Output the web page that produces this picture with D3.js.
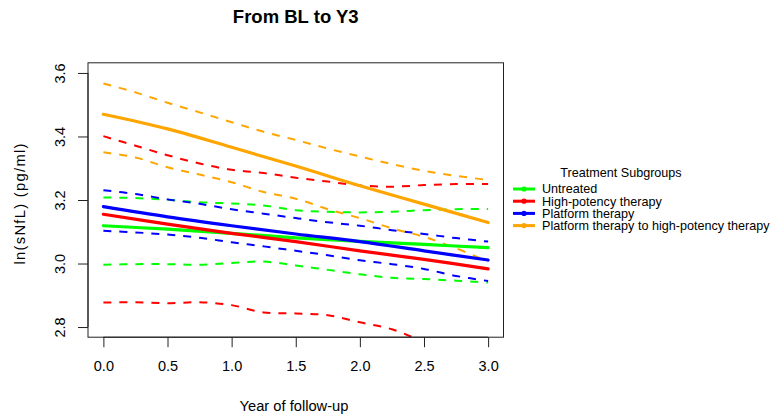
<!DOCTYPE html>
<html>
<head>
<meta charset="utf-8">
<script src="https://cdn.jsdelivr.net/npm/d3@7"></script>
<style>
  body { margin: 0; background: #fff; }
  svg { display: block; }
  text { font-family: "Liberation Sans", Arial, sans-serif; fill: #000; }
</style>
</head>
<body>
<svg id="chart" width="777" height="417"></svg>
<script>
// ---- data ----
const groups = ["Untreated", "High-potency therapy", "Platform therapy", "Platform therapy to high-potency therapy"];
const colors = ["#00FF00", "#FF0000", "#0000FF", "#FFA500"];
const xFine = [0, 0.25, 0.5, 0.75, 1.0, 1.25, 1.5, 1.75, 2.0, 2.25, 2.5, 2.75, 3.0];
const xCoarse = [0, 0.5, 1.0, 1.5, 2.0, 2.5, 3.0];

// estimates (solid)
const fitUntreated = [3.119, 3.108, 3.095, 3.081, 3.070, 3.060, 3.050];
const fitHigh      = [3.155, 3.124, 3.095, 3.069, 3.040, 3.013, 2.983];
const fitPlatform  = [3.179, 3.147, 3.119, 3.093, 3.069, 3.040, 3.011];
const fitSwitch    = [3.470, 3.424, 3.366, 3.307, 3.245, 3.187, 3.129];

// upper confidence bounds (dashed)
const upUntreated = [3.208, 3.206, 3.201, 3.193, 3.189, 3.183, 3.168, 3.163, 3.161, 3.163, 3.168, 3.171, 3.172];
const upHigh      = [3.401, 3.371, 3.341, 3.315, 3.295, 3.285, 3.270, 3.258, 3.246, 3.242, 3.247, 3.250, 3.250];
const upPlatform  = [3.231, 3.219, 3.202, 3.188, 3.171, 3.157, 3.143, 3.130, 3.119, 3.105, 3.093, 3.080, 3.069];
const upSwitch    = [3.567, 3.539, 3.506, 3.476, 3.445, 3.415, 3.389, 3.362, 3.337, 3.313, 3.292, 3.276, 3.263];

// lower confidence bounds (dashed)
const loUntreated = [2.996, 2.998, 2.998, 2.996, 3.002, 3.006, 2.994, 2.980, 2.966, 2.955, 2.951, 2.946, 2.940];
const loHigh      = [2.877, 2.878, 2.875, 2.878, 2.869, 2.846, 2.843, 2.837, 2.815, 2.793, 2.754, 2.725, 2.700];
const loPlatform  = [3.103, 3.098, 3.091, 3.081, 3.067, 3.054, 3.040, 3.026, 3.010, 2.998, 2.983, 2.961, 2.945];
const loSwitch    = [3.350, 3.334, 3.303, 3.280, 3.256, 3.225, 3.204, 3.171, 3.143, 3.111, 3.084, 3.048, 3.006];

const xTicks = [0, 0.5, 1.0, 1.5, 2.0, 2.5, 3.0];
const yTicks = [2.8, 3.0, 3.2, 3.4, 3.6];

const fits = [fitUntreated, fitHigh, fitPlatform, fitSwitch];
const ups = [upUntreated, upHigh, upPlatform, upSwitch];
const los = [loUntreated, loHigh, loPlatform, loSwitch];

// ---- layout ----
const svg = d3.select("#chart");
const x = d3.scaleLinear().domain([-0.12, 3.12]).range([88, 503.5]);
const y = d3.scaleLinear().domain([2.768, 3.632]).range([337.2, 62.8]);
const [x0, x1] = x.range();
const [yb, yt] = y.range();

svg.append("defs").append("clipPath").attr("id", "plotclip")
  .append("rect").attr("x", x0).attr("y", yt).attr("width", x1 - x0).attr("height", yb - yt);

const line = d3.line().x(d => x(d[0])).y(d => y(d[1])).curve(d3.curveCatmullRom.alpha(0.5));
const plot = svg.append("g").attr("clip-path", "url(#plotclip)");

groups.forEach((g, i) => {
  [ups[i], los[i]].forEach(arr => {
    plot.append("path")
      .attr("d", line(xFine.map((xv, j) => [xv, arr[j]])))
      .attr("fill", "none").attr("stroke", colors[i])
      .attr("stroke-width", 2).attr("stroke-dasharray", "8,8");
  });
});
groups.forEach((g, i) => {
  plot.append("path")
    .attr("d", line(xCoarse.map((xv, j) => [xv, fits[i][j]])))
    .attr("fill", "none").attr("stroke", colors[i])
    .attr("stroke-width", 3.2).attr("stroke-linecap", "round");
});

// box
svg.append("rect").attr("x", x0).attr("y", yt).attr("width", x1 - x0).attr("height", yb - yt)
  .attr("fill", "none").attr("stroke", "#222").attr("stroke-width", 1);

// x axis
const xAxis = d3.axisBottom(x).tickValues(xTicks).tickFormat(d3.format(".1f")).tickSize(10).tickPadding(14);
const gx = svg.append("g").attr("transform", `translate(0,${yb})`).call(xAxis);
gx.select(".domain").attr("d", `M${x(0)},0H${x(3)}`).attr("stroke", "#222");
gx.selectAll(".tick line").attr("stroke", "#222");
gx.selectAll(".tick text").style("font-family", "Liberation Sans, Arial, sans-serif").style("font-size", "14.5px").attr("fill", "#000");

// y axis
const yAxis = d3.axisLeft(y).tickValues(yTicks).tickFormat(d3.format(".1f")).tickSize(10).tickPadding(0);
const gy = svg.append("g").attr("transform", `translate(${x0},0)`).call(yAxis);
gy.select(".domain").attr("d", `M0,${y(2.8)}V${y(3.6)}`).attr("stroke", "#222");
gy.selectAll(".tick line").attr("stroke", "#222");
gy.selectAll(".tick text")
  .attr("x", null).attr("dy", null)
  .attr("text-anchor", "middle")
  .attr("transform", "translate(-23,0) rotate(-90)")
  .style("font-family", "Liberation Sans, Arial, sans-serif").style("font-size", "14.5px").attr("fill", "#000");

// titles
svg.append("text").attr("x", (x0 + x1) / 2).attr("y", 22.5).attr("text-anchor", "middle")
  .style("font-size", "18.5px").style("font-weight", "bold").text("From BL to Y3");
svg.append("text").attr("x", 294).attr("y", 410.5).attr("text-anchor", "middle")
  .style("font-size", "14.7px").text("Year of follow-up");
svg.append("text").attr("transform", "translate(25,204) rotate(-90)").attr("text-anchor", "middle")
  .style("font-size", "14.7px").attr("textLength", 121).attr("lengthAdjust", "spacing")
  .text("ln(sNfL) (pg/ml)");

// legend
const lg = svg.append("g");
lg.append("text").attr("x", 621).attr("y", 177).attr("text-anchor", "middle")
  .style("font-size", "12.6px").text("Treatment Subgroups");
const legY = d3.scalePoint().domain(groups).range([189, 225.6]);
groups.forEach((g, i) => {
  const yy = legY(g);
  lg.append("line").attr("x1", 513).attr("x2", 535).attr("y1", yy).attr("y2", yy)
    .attr("stroke", colors[i]).attr("stroke-width", 3);
  lg.append("circle").attr("cx", 524).attr("cy", yy).attr("r", 2.6).attr("fill", colors[i]);
  lg.append("text").attr("x", 542).attr("y", yy + 4.4).style("font-size", "12.6px").text(g);
});
</script>
</body>
</html>
